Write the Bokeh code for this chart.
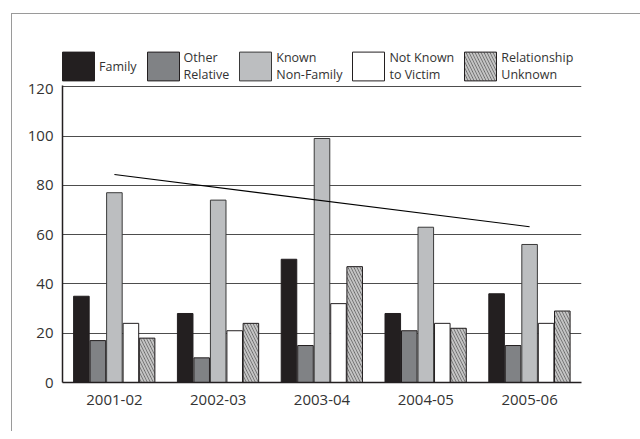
import numpy as np
from bokeh.plotting import figure
from bokeh.layouts import column
from bokeh.models import (FactorRange, Range1d, Legend, LegendItem,
                          FixedTicker, ColumnDataSource, InlineStyleSheet)
from bokeh.transform import dodge
from bokeh.embed import file_html
from bokeh.resources import INLINE

years = ["2001-02", "2002-03", "2003-04", "2004-05", "2005-06"]
family = [35, 28, 50, 28, 36]
other_relative = [17, 10, 15, 21, 15]
known_non_family = [77, 74, 99, 63, 56]
not_known = [24, 21, 32, 24, 24]
unknown = [18, 24, 47, 22, 29]
y_ticks = [0, 20, 40, 60, 80, 100, 120]
series_labels = ["Family", "Other\nRelative", "Known\nNon-Family",
                 "Not Known\nto Victim", "Relationship\nUnknown"]

FONT = "Open Sans"
TXT = "#333333"

styles = [
    dict(fill_color="#231f20", line_color="#231f20", line_width=1),
    dict(fill_color="#808285", line_color="#231f20", line_width=1),
    dict(fill_color="#bcbec0", line_color="#3a3a3a", line_width=1),
    dict(fill_color="white", line_color="#231f20", line_width=1),
    dict(fill_color="#5e5e5e", line_color="#231f20", line_width=1,
         hatch_pattern="\\", hatch_color="#c4c4c4", hatch_scale=6,
         hatch_weight=2),
]
cols = ["family", "other", "known", "notknown", "unknown"]
offsets = [-0.318, -0.159, 0.0, 0.159, 0.315]

src = ColumnDataSource(dict(year=years, family=family, other=other_relative,
                            known=known_non_family, notknown=not_known,
                            unknown=unknown))

x_range = FactorRange(factors=years, range_padding=0)

# ---- legend strip (top) ----
lf = figure(width=640, height=83, x_range=x_range, y_range=Range1d(-2, -1),
            x_axis_type=None, y_axis_type=None, output_backend="svg",
            toolbar_location=None, min_border=0)
lf.outline_line_color = None
lf.grid.visible = False
lf.stylesheets = [InlineStyleSheet(css="""
:host::before {
  content: ""; position: absolute;
  left: 11px; top: 12.5px; right: 0px; bottom: 0px;
  border-left: 1.5px solid #9a9a9a; border-top: 1.5px solid #9a9a9a;
  pointer-events: none; z-index: 10;
}""")]
legend_renderers = [lf.vbar(x=dodge("year", off, range=x_range), top=c,
                            width=0.15, source=src, visible=False, **st)
                    for c, off, st in zip(cols, offsets, styles)]
legend = Legend(items=[LegendItem(label=lab, renderers=[r])
                       for lab, r in zip(series_labels, legend_renderers)],
                orientation="horizontal", location=(-4, -1), padding=0, margin=0,
                spacing=6, glyph_width=40, glyph_height=36, label_standoff=1,
                label_text_font=FONT, label_text_font_size="12.5px",
                label_text_color=TXT, label_text_line_height=1.35,
                background_fill_alpha=0, border_line_color=None)
lf.add_layout(legend, "center")

# ---- main chart ----
p = figure(x_range=x_range, y_range=Range1d(0, 120.5), width=640, height=348,
           output_backend="svg", toolbar_location=None,
           min_border_left=62, min_border_right=59,
           min_border_top=2, min_border_bottom=49)
p.outline_line_color = None
p.background_fill_color = "white"
p.stylesheets = [InlineStyleSheet(css="""
:host::before {
  content: ""; position: absolute;
  left: 11px; top: 0px; bottom: 0px; width: 0px;
  border-left: 1.5px solid #9a9a9a;
  pointer-events: none; z-index: 10;
}""")]

w = 0.15
for c, off, st in zip(cols, offsets, styles):
    p.vbar(x=dodge("year", off, range=x_range), top=c, width=w,
           source=src, **st)

# linear trend of Known Non-Family
xi = np.arange(len(years))
slope, intercept = np.polyfit(xi, known_non_family, 1)
trend = [slope * xi[0] + intercept, slope * xi[-1] + intercept]
p.line(x=[years[0], years[-1]], y=trend, line_color="black", line_width=1.2)

p.yaxis.ticker = FixedTicker(ticks=y_ticks)
p.xgrid.grid_line_color = None
p.ygrid.grid_line_color = "#4d4d4d"
p.ygrid.grid_line_width = 1.2
for ax in (p.xaxis[0], p.yaxis[0]):
    ax.axis_line_color = "#231f20"
    ax.axis_line_width = 1.5
    ax.major_tick_line_color = None
    ax.minor_tick_line_color = None
    ax.major_label_text_font = FONT
    ax.major_label_text_font_size = "15px"
    ax.major_label_text_color = TXT
p.yaxis.major_label_standoff = 3
p.yaxis.major_label_text_baseline = "top"
p.xaxis.major_label_standoff = 6

layout = column(lf, p, spacing=0)
open("out.html", "w").write(file_html(layout, INLINE))
